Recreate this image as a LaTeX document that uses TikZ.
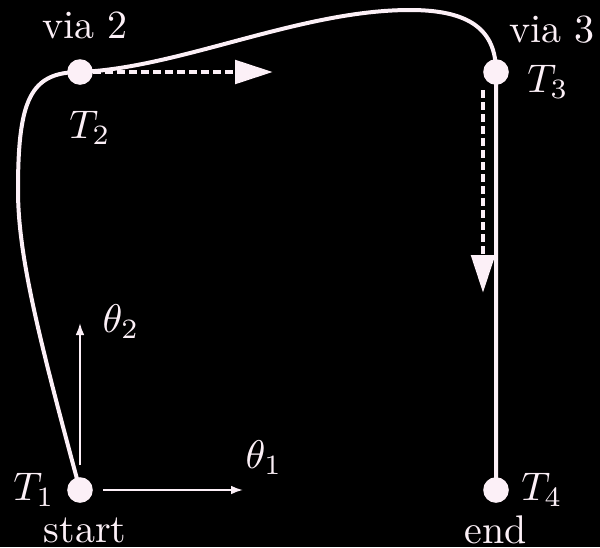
\documentclass[tikz,border=0pt]{standalone}
\usetikzlibrary{arrows.meta}
\definecolor{fg}{RGB}{252,240,247}
\begin{document}
\begin{tikzpicture}[x=0.25pt,y=-0.25pt,
  every node/.style={text=fg,font=\fontsize{10}{12}\selectfont},
  pathline/.style={draw=fg,line width=1pt},
  dashedarrow/.style={draw=fg,line width=1.2pt,dash pattern=on 2pt off 1pt,-{Triangle[length=9.5pt,width=5.8pt]}},
  axisarrow/.style={draw=fg,line width=0.5pt,-{Latex[length=3pt,width=2.2pt]}},
  dot/.style={circle,fill=fg,minimum size=6.4pt,inner sep=0pt}]
\fill[black] (0,0) rectangle (600,547);
\useasboundingbox (0,0) rectangle (600,547);
\coordinate (p1) at (80,490);
\coordinate (p2) at (80,72);
\coordinate (p3) at (496,72);
\coordinate (p4) at (496,490);
\coordinate (l1) at (18,190);
\coordinate (top) at (410,10);
\draw[pathline] (p1) .. controls (38,335) and (18,255) .. (l1)
  .. controls (18,100) and (30,72) .. (p2)
  .. controls (180,68) and (300,10) .. (top)
  .. controls (470,10) and (496,30) .. (p3) -- (p4);
\node[dot] (T1) at (p1) {};
\node[dot] (T2) at (p2) {};
\node[dot] (T3) at (p3) {};
\node[dot] (T4) at (p4) {};
\coordinate (h1) at (93,72);
\coordinate (h2) at (273,72);
\coordinate (v1) at (483,90);
\coordinate (v2) at (483,293);
\draw[dashedarrow] (h1) -- (h2);
\draw[dashedarrow] (v1) -- (v2);
\coordinate (a0) at (80,465);
\coordinate (a2) at (80,323);
\coordinate (b0) at (103,490);
\coordinate (b1) at (243,490);
\draw[axisarrow] (a0) -- (a2);
\draw[axisarrow] (b0) -- (b1);
\node (via2) at (85,25) {via 2};
\node (lT2) at (90,128) {$T_2$};
\node (via3) at (552,30) {via 3};
\node (lT3) at (548,82) {$T_3$};
\node (lT1) at (34,490) {$T_1$};
\node (start) at (85,530) {start};
\node (lT4) at (542,490) {$T_4$};
\node (endl) at (496,530) {end};
\node (th2) at (121,322) {$\theta_2$};
\node (th1) at (264,458) {$\theta_1$};
\end{tikzpicture}
\end{document}
